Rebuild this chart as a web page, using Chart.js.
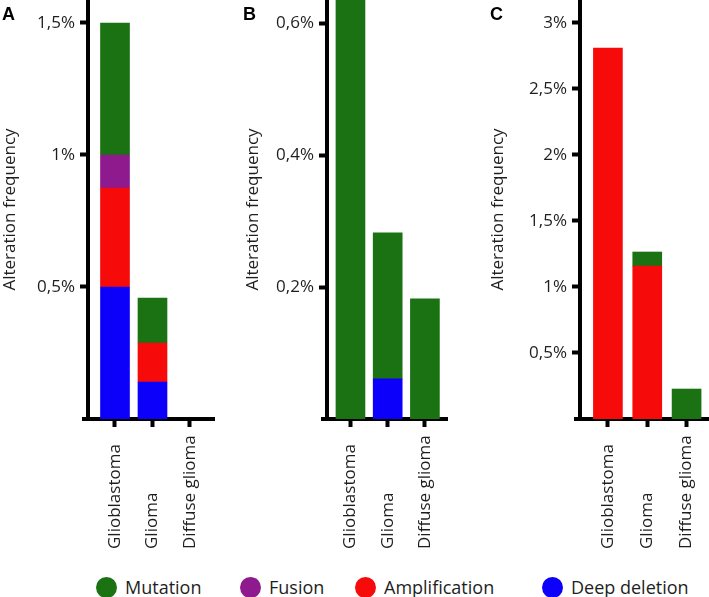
<!DOCTYPE html>
<html>
<head>
<meta charset="utf-8">
<script src="https://cdn.jsdelivr.net/npm/chart.js@4.4.0/dist/chart.umd.min.js"></script>
<style>
  body { margin: 0; background: #fff; font-family: "Open Sans", sans-serif; }
  #wrap { position: relative; width: 709px; height: 597px; overflow: hidden; }
  .panel { position: absolute; top: 0; height: 560px; }
  .letter { position: absolute; top: 5px; font: bold 18px "Liberation Sans", Arial, sans-serif; line-height: 1; color: #000; }
  .legend-item { position: absolute; top: 575px; height: 24px; display: flex; align-items: center; font-size: 18px; color: #1e1e1e; white-space: nowrap; }
  .dot { width: 21px; height: 21px; border-radius: 50%; margin-right: 8px; }
</style>
</head>
<body>
<div id="wrap">
  <div class="panel" style="left:0;width:215px"><canvas id="chartA"></canvas></div>
  <div class="panel" style="left:243px;width:205px"><canvas id="chartB"></canvas></div>
  <div class="panel" style="left:488px;width:221px"><canvas id="chartC"></canvas></div>
  <div class="letter" style="left:2px">A</div>
  <div class="letter" style="left:243px">B</div>
  <div class="letter" style="left:490px">C</div>
  <div id="legend"></div>
</div>
<script>
// categories (same for all three panels)
var categories = ["Glioblastoma", "Glioma", "Diffuse glioma"];

// panel A values, in %
var deepDeletionA = [0.5, 0.14, 0];
var amplificationA = [0.375, 0.148, 0];
var fusionA = [0.125, 0, 0];
var mutationA = [0.5, 0.17, 0];

// panel B values, in %
var deepDeletionB = [0, 0.061, 0];
var mutationB = [0.65, 0.221, 0.182];

// panel C values, in %
var amplificationC = [2.81, 1.159, 0];
var mutationC = [0, 0.106, 0.227];

// y tick values
var yTicksA = [0.5, 1, 1.5];
var yTicksB = [0.2, 0.4, 0.6];
var yTicksC = [0.5, 1, 1.5, 2, 2.5, 3];

var colors = {
  "Mutation": "#1b7213",
  "Fusion": "#8e1a8e",
  "Amplification": "#f70a0a",
  "Deep deletion": "#0c00fa",
};
var legendOrder = ["Mutation", "Fusion", "Amplification", "Deep deletion"];
var legendLeft = [96, 240, 355, 542];

Chart.defaults.font.family = "'Open Sans', sans-serif";

function fmt(v) {
  return String(v).replace(".", ",") + "%";
}

// category labels read upward from a common bottom line,
// plus the short stub of x axis left of the y axis
var categoryLabels = {
  id: "categoryLabels",
  afterDraw: function (chart) {
    var xs = chart.scales.x;
    var area = chart.chartArea;
    var ctx = chart.ctx;
    ctx.save();
    ctx.strokeStyle = "#000";
    ctx.lineWidth = 4;
    ctx.beginPath();
    ctx.moveTo(area.left - 6, area.bottom);
    ctx.lineTo(area.left, area.bottom);
    ctx.stroke();

    ctx.font = "17px 'Open Sans'";
    ctx.fillStyle = "#1e1e1e";
    ctx.textAlign = "left";
    ctx.textBaseline = "middle";
    categories.forEach(function (c, i) {
      ctx.save();
      ctx.translate(xs.getPixelForValue(i), 549);
      ctx.rotate(-Math.PI / 2);
      ctx.fillText(c, 0, 0);
      ctx.restore();
    });
    ctx.restore();
  },
};

function makePanel(id, yWidth, xMin, xMax, yMax, yTicks, sets) {
  return new Chart(document.getElementById(id), {
    type: "bar",
    data: {
      datasets: sets.map(function (s) {
        return {
          label: s[0],
          // zero-height segments are left out so they leave no sliver
          data: categories.map(function (c, i) {
            return { x: i, y: s[1][i] === 0 ? null : s[1][i] };
          }),
          backgroundColor: colors[s[0]],
          borderWidth: 0,
          barThickness: 29,
        };
      }),
    },
    options: {
      responsive: true,
      maintainAspectRatio: false,
      animation: false,
      layout: { padding: 0, autoPadding: false },
      plugins: { legend: { display: false }, tooltip: { enabled: false } },
      scales: {
        x: {
          type: "linear",
          stacked: true,
          offset: false,
          min: xMin,
          max: xMax,
          border: { color: "#000", width: 4 },
          grid: { offset: false, drawOnChartArea: false, tickLength: 8, tickWidth: 4, tickColor: "#000" },
          ticks: { display: false },
          afterBuildTicks: function (s) {
            s.ticks = categories.map(function (c, i) {
              return { value: i };
            });
          },
          afterFit: function (s) {
            s.height = 141;
            s.paddingLeft = 0;
            s.paddingRight = 0;
          },
        },
        y: {
          stacked: true,
          min: 0,
          max: yMax,
          border: { color: "#000", width: 4 },
          grid: { drawOnChartArea: false, tickLength: 8, tickWidth: 4, tickColor: "#000" },
          ticks: { padding: 5, color: "#1e1e1e", font: { size: 17 }, callback: fmt },
          afterBuildTicks: function (s) {
            s.ticks = yTicks.map(function (v) {
              return { value: v };
            });
          },
          title: {
            display: true,
            text: "Alteration frequency",
            color: "#1e1e1e",
            font: { size: 17 },
            padding: 0,
          },
          afterFit: function (s) {
            s.width = yWidth;
            s.paddingTop = 0;
            s.paddingBottom = 0;
          },
        },
      },
    },
    plugins: [categoryLabels],
  });
}

makePanel("chartA", 88, -0.72, 2.667, 1.587, yTicksA, [
  ["Deep deletion", deepDeletionA],
  ["Amplification", amplificationA],
  ["Fusion", fusionA],
  ["Mutation", mutationA],
]);

makePanel("chartB", 84, -0.63, 2.62, 0.635, yTicksB, [
  ["Deep deletion", deepDeletionB],
  ["Mutation", mutationB],
]);

makePanel("chartC", 92, -0.71, 2.57, 3.174, yTicksC, [
  ["Amplification", amplificationC],
  ["Mutation", mutationC],
]);

// legend
var legend = document.getElementById("legend");
legendOrder.forEach(function (name, i) {
  var item = document.createElement("div");
  item.className = "legend-item";
  item.style.left = legendLeft[i] + "px";
  var dot = document.createElement("span");
  dot.className = "dot";
  dot.style.background = colors[name];
  var txt = document.createElement("span");
  txt.textContent = name;
  item.appendChild(dot);
  item.appendChild(txt);
  legend.appendChild(item);
});
</script>
</body>
</html>
